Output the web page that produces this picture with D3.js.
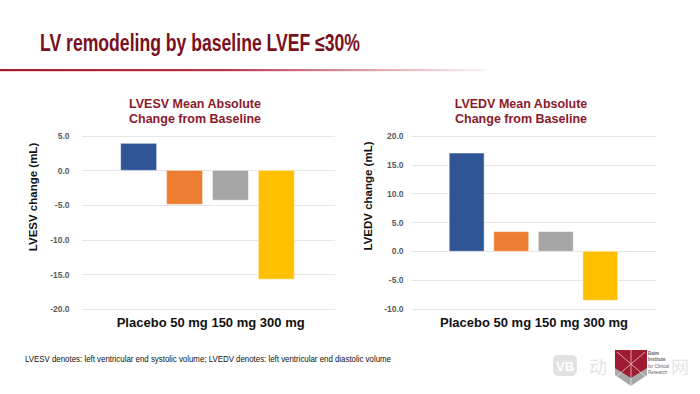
<!DOCTYPE html>
<html><head><meta charset="utf-8">
<script src="https://cdn.jsdelivr.net/npm/d3@7"></script>
<style>body{margin:0;background:#fff}svg{display:block}</style>
</head><body>
<svg id="c" width="700" height="394"></svg>
<script>
const categories = ["Placebo", "50 mg", "150 mg", "300 mg"];
const colors = ["#2F5597", "#ED7D31", "#A5A5A5", "#FFC000"];
const lvesvValues = [3.9, -4.9, -4.3, -15.7];
const lvedvValues = [17.0, 3.4, 3.4, -8.5];
const lvesvTicks = [5, 0, -5, -10, -15, -20];
const lvedvTicks = [20, 15, 10, 5, 0, -5, -10];
const mainTitle = "LV remodeling by baseline LVEF \u226430%";
const footnote = "LVESV denotes: left ventricular end systolic volume; LVEDV denotes: left ventricular end diastolic volume";

const svg = d3.select("#c");
const red = "#7A1020";

svg.append("text").attr("x", 40).attr("y", 51).attr("font-family", "Liberation Sans, Arial")
  .attr("font-weight", "bold").attr("font-size", 23).attr("fill", red)
  .attr("textLength", 320).attr("lengthAdjust", "spacingAndGlyphs").text(mainTitle);

const grad = svg.append("defs").append("linearGradient").attr("id", "lg").attr("x1", "0").attr("x2", "1");
grad.append("stop").attr("offset", "0").attr("stop-color", "#A3192F");
grad.append("stop").attr("offset", "0.45").attr("stop-color", "#B8344A");
grad.append("stop").attr("offset", "1").attr("stop-color", "#B8344A").attr("stop-opacity", 0.05);
svg.append("rect").attr("x", 0).attr("y", 69).attr("width", 487).attr("height", 2.2).attr("fill", "url(#lg)");

function panel(o) {
  const g = svg.append("g");
  const y = d3.scaleLinear().domain(o.domain).range(o.yRange);
  const x = d3.scaleBand().domain(categories).range(o.xRange).paddingInner(0.217).paddingOuter(0.1085);
  g.selectAll("line.grid").data(o.ticks).join("line")
    .attr("x1", o.gx[0]).attr("x2", o.gx[1])
    .attr("y1", d => Math.round(y(d)) + 0.5).attr("y2", d => Math.round(y(d)) + 0.5)
    .attr("stroke", "#E6E6E6").attr("stroke-width", 1);
  const ax = g.append("g").attr("transform", `translate(${o.tickX},0)`)
    .call(d3.axisLeft(y).tickValues(o.ticks).tickFormat(d3.format(".1f")).tickSize(0).tickPadding(0));
  ax.select(".domain").remove();
  ax.selectAll("text").attr("font-family", "Liberation Sans, Arial").attr("font-weight", "bold")
    .attr("font-size", 8.5).attr("fill", "#595959").text(d => d3.format(".1f")(d).replace("\u2212", "-"));
  g.selectAll("rect.bar").data(o.values).join("rect")
    .attr("x", (d, i) => x(categories[i])).attr("width", x.bandwidth())
    .attr("y", d => y(Math.max(0, d))).attr("height", d => Math.abs(y(d) - y(0)))
    .attr("fill", (d, i) => colors[i]).attr("stroke", "rgba(255,255,255,0.45)").attr("stroke-width", 1);
  const t = g.append("text").attr("text-anchor", "middle").attr("font-family", "Liberation Sans, Arial")
    .attr("font-weight", "bold").attr("font-size", 12.5).attr("fill", "#8B1A2B");
  t.append("tspan").attr("x", o.titleX).attr("y", 108).text(o.title1);
  t.append("tspan").attr("x", o.titleX).attr("y", 123).text("Change from Baseline");
  g.append("text").attr("transform", `translate(${o.ylx},${o.yly}) rotate(-90)`).attr("text-anchor", "middle")
    .attr("font-family", "Liberation Sans, Arial").attr("font-weight", "bold").attr("font-size", 11.5).attr("fill", "#111")
    .text(o.ylabel);
  g.append("text").attr("x", o.catX).attr("y", 327).attr("font-family", "Liberation Sans, Arial")
    .attr("font-weight", "bold").attr("font-size", 13).attr("fill", "#111")
    .attr("textLength", o.catW).attr("lengthAdjust", "spacingAndGlyphs").text(categories.join(" "));
}

panel({domain: [5, -20], yRange: [135.7, 309], xRange: [115.7, 299.3], ticks: lvesvTicks, values: lvesvValues,
  gx: [82, 335], tickX: 69.5, titleX: 195, title1: "LVESV Mean Absolute", ylx: 37, yly: 197,
  ylabel: "LVESV change (mL)", catX: 116.7, catW: 188});
panel({domain: [20, -10], yRange: [135.7, 309], xRange: [444.4, 622.6], ticks: lvedvTicks, values: lvedvValues,
  gx: [411, 656], tickX: 403.5, titleX: 521, title1: "LVEDV Mean Absolute", ylx: 372, yly: 196,
  ylabel: "LVEDV change (mL)", catX: 440, catW: 188});

svg.append("text").attr("x", 25).attr("y", 362).attr("font-family", "Liberation Sans, Arial")
  .attr("font-size", 9.5).attr("fill", "#111").attr("textLength", 366).attr("lengthAdjust", "spacingAndGlyphs").text(footnote);

const lg = svg.append("g");
lg.append("rect").attr("x", 553).attr("y", 355).attr("width", 24).attr("height", 21).attr("rx", 5).attr("fill", "#E2E2E2");
lg.append("text").attr("x", 565).attr("y", 371).attr("text-anchor", "middle").attr("font-family", "Liberation Sans")
  .attr("font-weight", "bold").attr("font-size", 13).attr("fill", "#fff").text("VB");
[["动", 589], ["脉", 616], ["网", 671]].forEach(([c, xx]) =>
  lg.append("text").attr("x", xx).attr("y", 374).attr("font-family", "Noto Sans CJK SC").attr("font-size", 18)
    .attr("fill", "#E4E4E4").text(c));
lg.append("path").attr("d", "M615,350 L647,350 L647,375 L631,386 L615,375 Z").attr("fill", "#A8A8A8");
lg.append("path").attr("d", "M615,350 L647,350 L647,368 L631,378 L615,368 Z").attr("fill", "#9E1B32");
lg.append("path").attr("d", "M617,352 L645,376 M645,352 L617,376 M631,350 L631,386").attr("stroke", "#fff").attr("stroke-width", 1).attr("opacity", 0.6);
["Baim", "Institute", "for Clinical", "Research"].forEach((s, i) =>
  lg.append("text").attr("x", 648).attr("y", 355 + i * 6.3).attr("font-family", "Liberation Sans").attr("font-size", 4.5)
    .attr("fill", "#666").attr("font-weight", i < 2 ? "bold" : "normal").text(s));
</script>
</body></html>
